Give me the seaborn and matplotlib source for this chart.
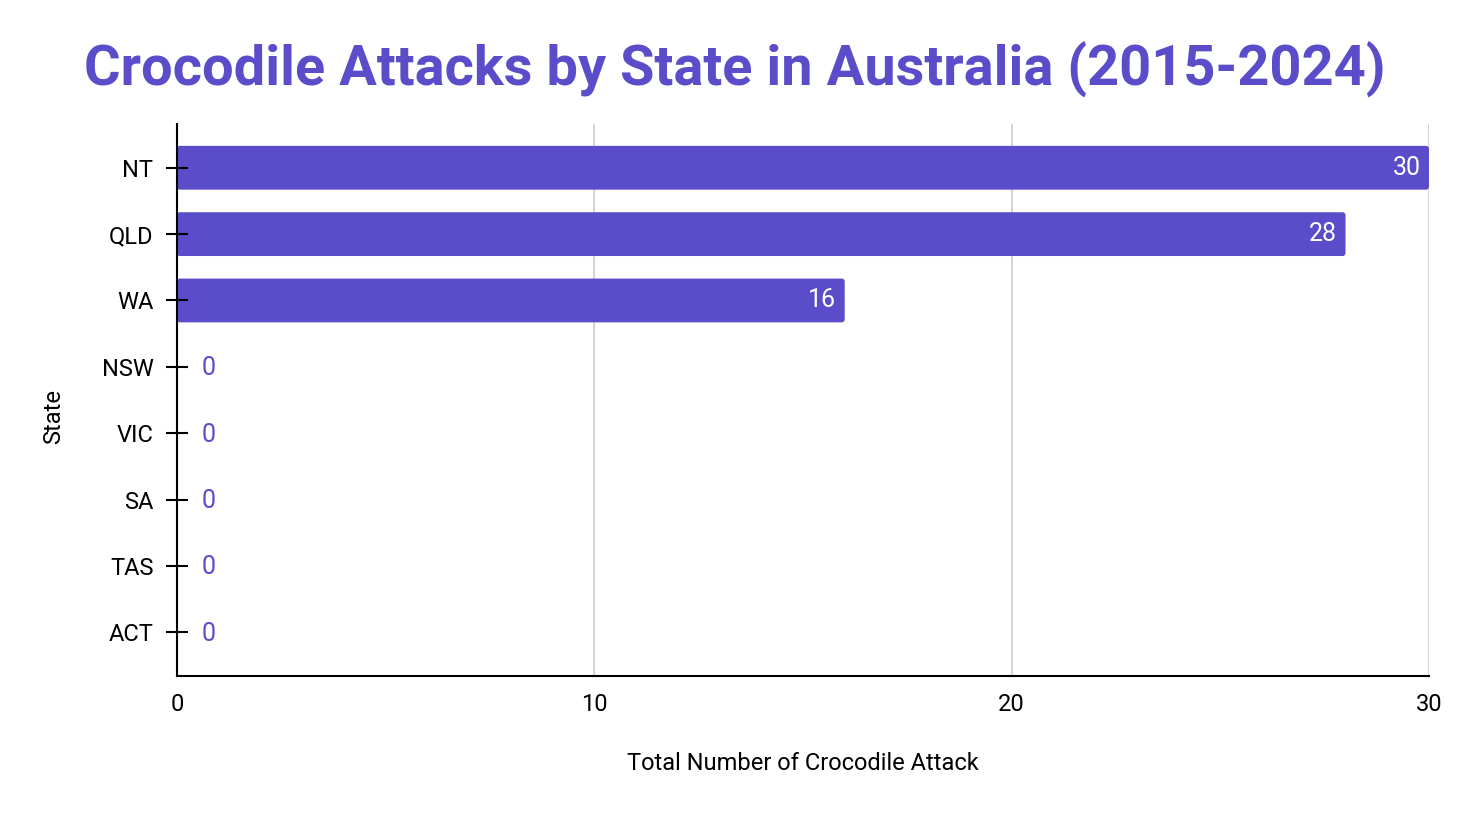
import matplotlib.pyplot as plt
from matplotlib.patches import FancyBboxPatch
import pandas as pd
import seaborn as sns

states = ["NT", "QLD", "WA", "NSW", "VIC", "SA", "TAS", "ACT"]
attacks = [30, 28, 16, 0, 0, 0, 0, 0]
x_ticks = [0, 10, 20, 30]

PURPLE = "#5b4dc9"

sns.set_style("white")
plt.rcParams["font.family"] = ["Roboto", "DejaVu Sans"]
plt.rcParams["text.color"] = "black"
plt.rcParams["axes.labelcolor"] = "black"
plt.rcParams["xtick.color"] = "black"
plt.rcParams["ytick.color"] = "black"

df = pd.DataFrame({"State": states, "Attacks": attacks})

fig = plt.figure(figsize=(14.7, 8.14), dpi=100)
ax = fig.add_axes([0.1204, 0.1695, 0.8517, 0.6782])

sns.barplot(data=df, x="Attacks", y="State", orient="h", color=PURPLE,
            saturation=1, width=0.66, ax=ax, zorder=3)

# swap the plain rectangles for ones with slightly rounded corners
for p in list(ax.patches):
    x, y = p.get_x(), p.get_y()
    w, h = p.get_width(), p.get_height()
    p.remove()
    if w <= 0:
        continue
    ax.add_patch(FancyBboxPatch((x, y), w, h,
                                boxstyle="round,pad=0,rounding_size=0.07",
                                mutation_aspect=0.63, facecolor=PURPLE,
                                edgecolor="none", zorder=3))

ax.set_xlim(0, 30)
ax.set_ylim(7.66, -0.66)
ax.set_xticks(x_ticks)
ax.grid(axis="x", color="#cccccc", linewidth=1.2)
ax.xaxis.set_zorder(0.5)
ax.yaxis.set_zorder(5)

for s in ["top", "right"]:
    ax.spines[s].set_visible(False)
for s in ["left", "bottom"]:
    ax.spines[s].set_color("black")
    ax.spines[s].set_linewidth(1.5)
    ax.spines[s].set_zorder(4)

ax.tick_params(axis="y", left=True, direction="inout", length=16, width=1.5,
               labelsize=17, pad=9, colors="black")
ax.tick_params(axis="x", bottom=False, length=0, labelsize=17, pad=12,
               colors="black")

for i, v in enumerate(attacks):
    if v > 0:
        ax.text(v - 0.2, i, str(v), color="white", fontsize=18,
                ha="right", va="center", zorder=6)
    else:
        ax.text(0.58, i + 0.02, str(v), color=PURPLE, fontsize=18,
                ha="left", va="center", zorder=6)

ax.set_xlabel("Total Number of Crocodile Attack", fontsize=17, labelpad=26)
ax.set_ylabel("State", fontsize=17)
ax.yaxis.set_label_coords(-0.089, 0.47)

fig.text(0.5, 0.915, "Crocodile Attacks by State in Australia (2015-2024)",
         ha="center", va="center", fontsize=40.3, fontweight="bold",
         color=PURPLE)

fig.savefig("out.png", dpi=100)
